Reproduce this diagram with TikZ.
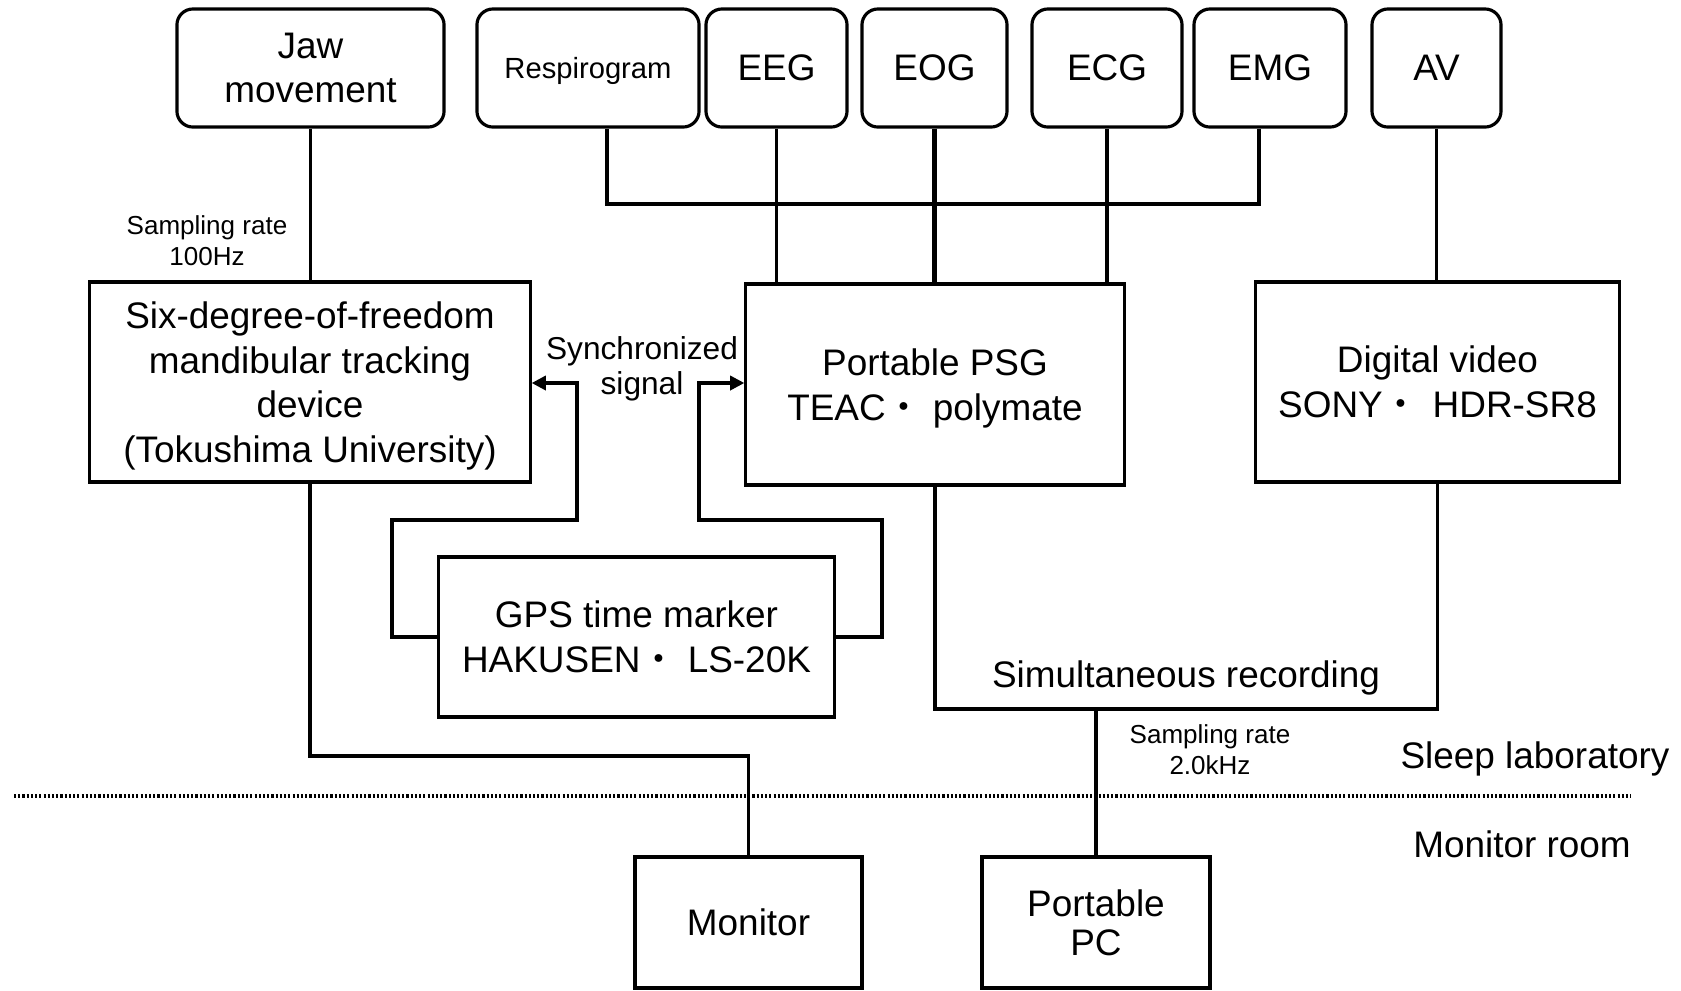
\documentclass[tikz,border=0pt]{standalone}
\usepackage{fontspec}
\setmainfont{Liberation Sans}
\newfontfamily\cjk{Noto Sans CJK JP}
\usetikzlibrary{arrows.meta,calc}

\begin{document}
\begin{tikzpicture}[x=0.01cm,y=-0.01cm, line width=0.9pt,
  every node/.style={inner sep=0pt, align=center},
  big/.style={font=\fontsize{10.5}{12.7}\selectfont},
  flat/.style={text depth=0pt},
  sigbox/.style={draw, big, rounded corners=0.16cm, minimum height=1.18cm},
  devbox/.style={draw, big},
  note/.style={font=\fontsize{7.4}{8.8}\selectfont},
  syncarrow/.style={-{Triangle[length=4pt,width=4pt]}}]

\useasboundingbox (0,0) rectangle (1681,990);

% signal sources
\node[sigbox, minimum width=2.67cm] (jaw) at (310.5,68) {Jaw\\movement};
\node[sigbox, flat, minimum width=2.22cm, font=\fontsize{8.3}{10}\selectfont] (resp) at (588,68) {Respirogram};
\node[sigbox, minimum width=1.41cm] (eeg) at (776.5,68) {EEG};
\node[sigbox, minimum width=1.45cm] (eog) at (934.5,68) {EOG};
\node[sigbox, minimum width=1.50cm] (ecg) at (1107,68) {ECG};
\node[sigbox, minimum width=1.52cm] (emg) at (1270,68) {EMG};
\node[sigbox, minimum width=1.29cm] (av) at (1436.5,68) {AV};

% recording devices
\node[devbox, flat, minimum width=4.40cm, minimum height=2.00cm] (six) at (310,382)
  {Six-degree-of-freedom\\mandibular tracking\\device\\(Tokushima University)};
\node[devbox, flat, minimum width=3.78cm, minimum height=2.01cm] (psg) at (935,384.5)
  {Portable PSG\\TEAC{\cjk ・} polymate};
\node[devbox, minimum width=3.63cm, minimum height=2.00cm] (dv) at (1437.5,382)
  {Digital video\\SONY{\cjk ・}\hspace{0.35em}HDR-SR8};
\node[devbox, minimum width=3.95cm, minimum height=1.60cm] (gps) at (636.5,637)
  {GPS time marker\\HAKUSEN{\cjk ・} LS-20K};
\node[devbox, minimum width=2.27cm, minimum height=1.31cm] (mon) at (748.5,922.5) {Monitor};
\node[devbox, minimum width=2.28cm, minimum height=1.31cm, font=\fontsize{10.5}{11}\selectfont] (pc) at (1096,922.5) {Portable\\PC};

% labels
\node[note] (sr1) at (207,241) {Sampling rate\\100Hz};
\node[flat, font=\fontsize{9}{10}\selectfont] (syn) at (642,365.5) {Synchronized\\signal};
\node[big, flat] (sim) at (1186,674) {Simultaneous recording};
\node[note] (sr2) at (1210,749.5) {Sampling rate\\2.0kHz};
\node[big, flat] (lab) at (1535,755) {Sleep laboratory};
\node[big] (room) at (1522,844) {Monitor room};

% jaw tracker
\draw (jaw.south) -- (jaw.south |- six.north);

% PSG signal bus
\coordinate (bl) at (607,204);
\coordinate (br) at (1259,204);
\draw (resp.south -| bl) -- (bl) -- (br) -- (emg.south -| br);
\draw (eeg.south) -- (eeg.south |- psg.north);
\draw[line width=1.2pt] (eog.south) -- (eog.south |- psg.north);
\draw (ecg.south) -- (ecg.south |- psg.north);

% video
\draw (av.south) -- (av.south |- dv.north);

% synchronisation from the GPS marker
\coordinate (l1) at (392,637);
\coordinate (l2) at (392,520);
\coordinate (l3) at (577,520);
\coordinate (l4) at (577,383);
\draw[syncarrow] (gps.west) -- (l1) -- (l2) -- (l3) -- (l4) -- (l4 -| six.east);
\coordinate (r1) at (882,637);
\coordinate (r2) at (882,520);
\coordinate (r3) at (699,520);
\coordinate (r4) at (699,383);
\draw[syncarrow] (gps.east) -- (r1) -- (r2) -- (r3) -- (r4) -- (r4 -| psg.west);

% tracker to monitor
\coordinate (m1) at (310,756);
\coordinate (m2) at (748.5,756);
\draw (six.south) -- (m1) -- (m2) -- (mon.north);

% simultaneous recording to the PC
\coordinate (p1) at (935,709);
\coordinate (p2) at (1437.5,709);
\draw (psg.south) -- (p1) -- (p2) -- (dv.south);
\coordinate (p3) at (1096,709);
\draw (p3) -- (pc.north);

% room boundary
\coordinate (d1) at (14,796);
\coordinate (d2) at (1631,796);
\draw[dash pattern=on 0.6pt off 0.6pt] (d1) -- (d2);
\end{tikzpicture}
\end{document}
